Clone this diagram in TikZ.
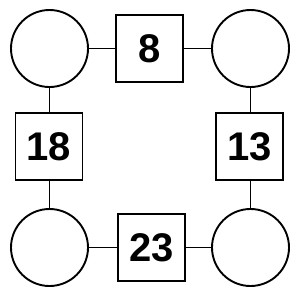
\documentclass[tikz,border=0pt]{standalone}
\usepackage{fontspec}
\setmainfont{Liberation Sans}
\usepackage{tikz}
\usetikzlibrary{positioning}
\tikzset{
  ring/.style={circle, draw=black, fill=white, minimum size=77pt,
    inner sep=0pt, line width=1.9pt},
  numbox/.style={rectangle, draw=black, fill=white, minimum size=67pt,
    inner sep=0pt, line width=1.9pt, font=\fontsize{40}{40}\selectfont\bfseries},
  link/.style={line width=1.9pt, color=black}
}
\begin{document}
\begin{tikzpicture}[x=1pt, y=-1pt]
    \useasboundingbox (0,0) rectangle (300,300);
    % Corner circles
    \node[ring] (tl) at (49.5,48.5) {};
    \node[ring] (tr) at (250.5,48.5) {};
    \node[ring] (bl) at (49.5,247.5) {};
    \node[ring] (br) at (250.5,247.5) {};
    
    % Number boxes
    \node[numbox] (top) at (149.5,48.5) {8};
    \node[numbox] (lft) at (49,146.5) {18};
    \node[numbox] (rgt) at (249.5,146.5) {13};
    \node[numbox] (bot) at (151.7,247.5) {23};
    
    % Links
    \draw[link] (tl) -- (top);
    \draw[link] (top) -- (tr);
    \draw[link] (tl.south) -- (tl.south |- lft.north);
    \draw[link] (bl.north |- lft.south) -- (bl.north);
    \draw[link] (tr.south) -- (tr.south |- rgt.north);
    \draw[link] (br.north |- rgt.south) -- (br.north);
    \draw[link] (bl) -- (bot);
    \draw[link] (bot) -- (br);
  \end{tikzpicture}
\end{document}
